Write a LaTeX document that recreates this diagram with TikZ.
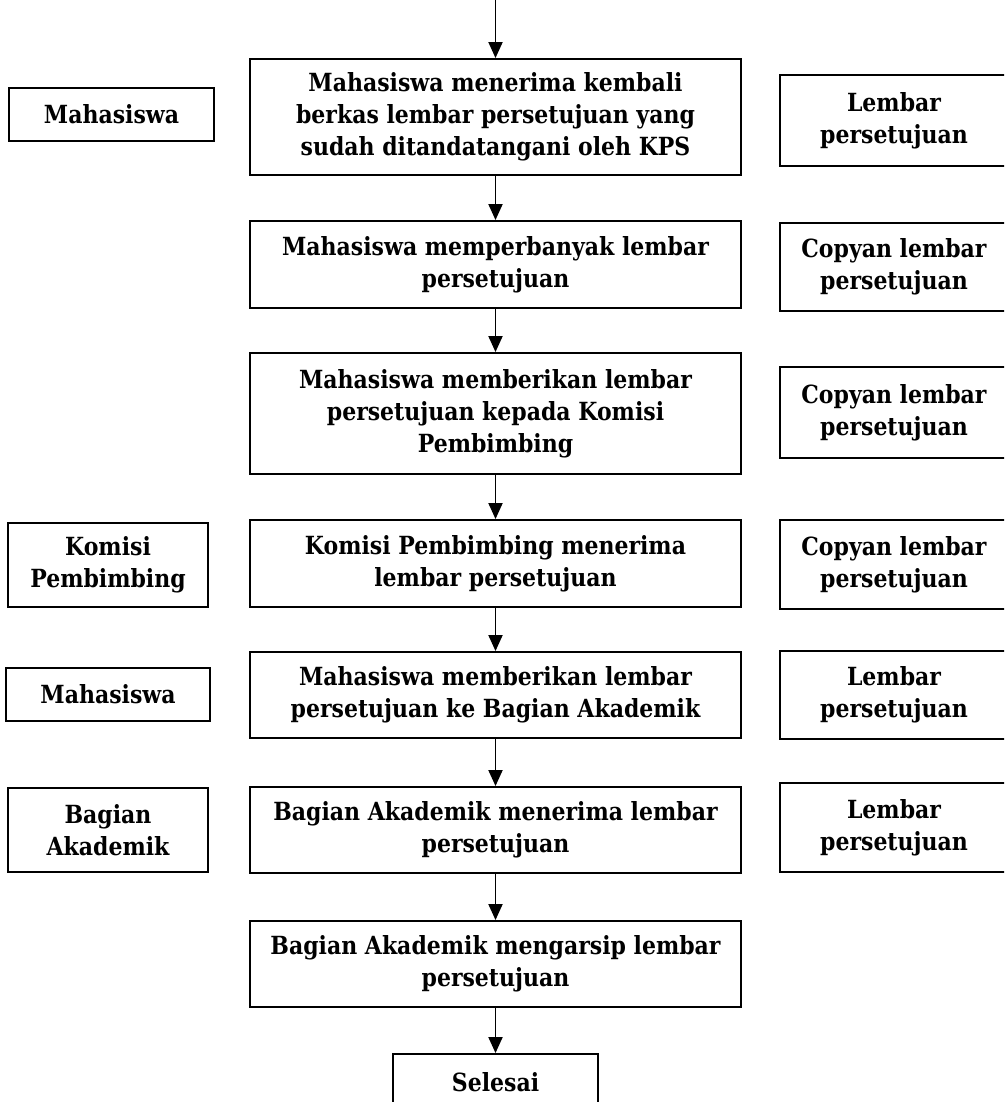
\documentclass[tikz,border=0pt]{standalone}
\usepackage{fontspec}
\setmainfont{DejaVu Serif}[FakeStretch=0.88]
\usetikzlibrary{arrows.meta}
\tikzset{
  box/.style={draw=black, line width=1.9pt, fill=white, align=center, inner sep=0pt,
    font=\bfseries\fontsize{25}{32}\selectfont},
  flow/.style={line width=1.9pt, -{Triangle[width=14pt,length=16pt]}}
}
\begin{document}
\begin{tikzpicture}[x=1pt,y=-1pt]
\clip (0,0) rectangle (1004,1102);
\fill[white] (0,0) rectangle (1004,1102);
% main column
\node[box, minimum width=491pt, minimum height=116pt] (m1) at (495.5,117) {Mahasiswa menerima kembali\\berkas lembar persetujuan yang\\sudah ditandatangani oleh KPS};
\node[box, minimum width=491pt, minimum height=87pt] (m2) at (495.5,264.5) {Mahasiswa memperbanyak lembar\\persetujuan};
\node[box, minimum width=491pt, minimum height=121pt] (m3) at (495.5,413.5) {Mahasiswa memberikan lembar\\persetujuan kepada Komisi\\Pembimbing};
\node[box, minimum width=491pt, minimum height=87pt] (m4) at (495.5,563.5) {Komisi Pembimbing menerima\\lembar persetujuan};
\node[box, minimum width=491pt, minimum height=86pt] (m5) at (495.5,695) {Mahasiswa memberikan lembar\\persetujuan ke Bagian Akademik};
\node[box, minimum width=491pt, minimum height=86pt] (m6) at (495.5,830) {Bagian Akademik menerima lembar\\persetujuan};
\node[box, minimum width=491pt, minimum height=86pt] (m7) at (495.5,964) {Bagian Akademik mengarsip lembar\\persetujuan};
\node[box, minimum width=205pt, minimum height=56pt] (sel) at (495.5,1082) {Selesai};
% left column
\node[box, minimum width=205pt, minimum height=53pt] (l1) at (111.5,114.5) {Mahasiswa};
\node[box, minimum width=200pt, minimum height=84pt] (l4) at (108,565) {Komisi\\Pembimbing};
\node[box, minimum width=204pt, minimum height=53pt] (l5) at (108,694.5) {Mahasiswa};
\node[box, minimum width=200pt, minimum height=84pt] (l6) at (108,830) {Bagian\\Akademik};
% right column
\node[box, minimum width=228pt, minimum height=91pt] (r1) at (894,120.5) {Lembar\\persetujuan};
\node[box, minimum width=228pt, minimum height=88pt] (r2) at (894,267) {Copyan lembar\\persetujuan};
\node[box, minimum width=228pt, minimum height=91pt] (r3) at (894,412.5) {Copyan lembar\\persetujuan};
\node[box, minimum width=228pt, minimum height=89pt] (r4) at (894,564.5) {Copyan lembar\\persetujuan};
\node[box, minimum width=228pt, minimum height=88pt] (r5) at (894,695) {Lembar\\persetujuan};
\node[box, minimum width=228pt, minimum height=89pt] (r6) at (894,827.5) {Lembar\\persetujuan};
% connectors
\coordinate (start) at (495.5,0);
\draw[flow] (start) -- (m1.north);
\draw[flow] (m1.south) -- (m2.north);
\draw[flow] (m2.south) -- (m3.north);
\draw[flow] (m3.south) -- (m4.north);
\draw[flow] (m4.south) -- (m5.north);
\draw[flow] (m5.south) -- (m6.north);
\draw[flow] (m6.south) -- (m7.north);
\draw[flow] (m7.south) -- (sel.north);
\end{tikzpicture}
\end{document}
